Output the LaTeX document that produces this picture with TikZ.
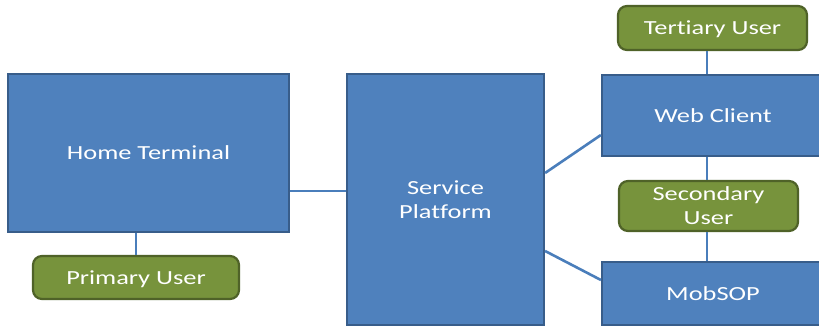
\documentclass[tikz,border=0pt]{standalone}
\usepackage{fontspec}
\setmainfont{Carlito}[FakeStretch=1.32, RawFeature={-liga}]
\definecolor{boxfill}{HTML}{4F81BD}
\definecolor{boxline}{HTML}{385D8A}
\definecolor{userfill}{HTML}{77933C}
\definecolor{userline}{HTML}{4F6228}
\definecolor{linkcol}{HTML}{4A7EBB}
\tikzset{
  every node/.style={font=\fontsize{20}{24}\selectfont, text=white, align=center, inner sep=0pt},
  bluebox/.style={rectangle, fill=boxfill, draw=boxline, line width=2.2pt},
  userbox/.style={rectangle, rounded corners=9pt, fill=userfill, draw=userline, line width=2.2pt, text depth=0pt},
  link/.style={draw=linkcol, line width=2.6pt},
  thinlink/.style={draw=linkcol, line width=1.8pt}
}
\begin{document}
\begin{tikzpicture}[x=1pt, y=-1pt]
\useasboundingbox (0,0) rectangle (819,328);
\clip (0,0) rectangle (819,328);
\fill[white] (0,0) rectangle (819,328);

% main blocks
\node[bluebox, minimum width=281, minimum height=158] (ht) at (148.5,153) {Home Terminal};
\node[bluebox, minimum width=197, minimum height=251] (sp) at (445.5,199.5) {Service\\Platform};
\node[bluebox, minimum width=222, minimum height=81] (wc) at (713,115.5) {Web Client};
\node[bluebox, minimum width=222, minimum height=63] (mob) at (713,293.5) {MobSOP};

% users
\node[userbox, minimum width=206, minimum height=43] (pu) at (136,277.5) {Primary User};
\node[userbox, minimum width=189, minimum height=44] (tu) at (712.5,28) {Tertiary User};
\node[userbox, minimum width=179, minimum height=50] (su) at (708.5,206) {Secondary\\User};

% links to the service platform
\draw[link] (ht.east |- 0,191) -- (sp.west |- 0,191);
\draw[link] (sp.east |- 0,173) -- (wc.west |- 0,135);
\draw[link] (sp.east |- 0,251) -- (mob.west |- 0,280);

% user links
\draw[thinlink] (ht.south -| 136,0) -- (pu.north -| 136,0);
\draw[thinlink] (tu.south -| 707,0) -- (wc.north -| 707,0);
\draw[thinlink] (wc.south -| 707,0) -- (su.north -| 707,0);
\draw[thinlink] (su.south -| 707,0) -- (mob.north -| 707,0);
\end{tikzpicture}
\end{document}
